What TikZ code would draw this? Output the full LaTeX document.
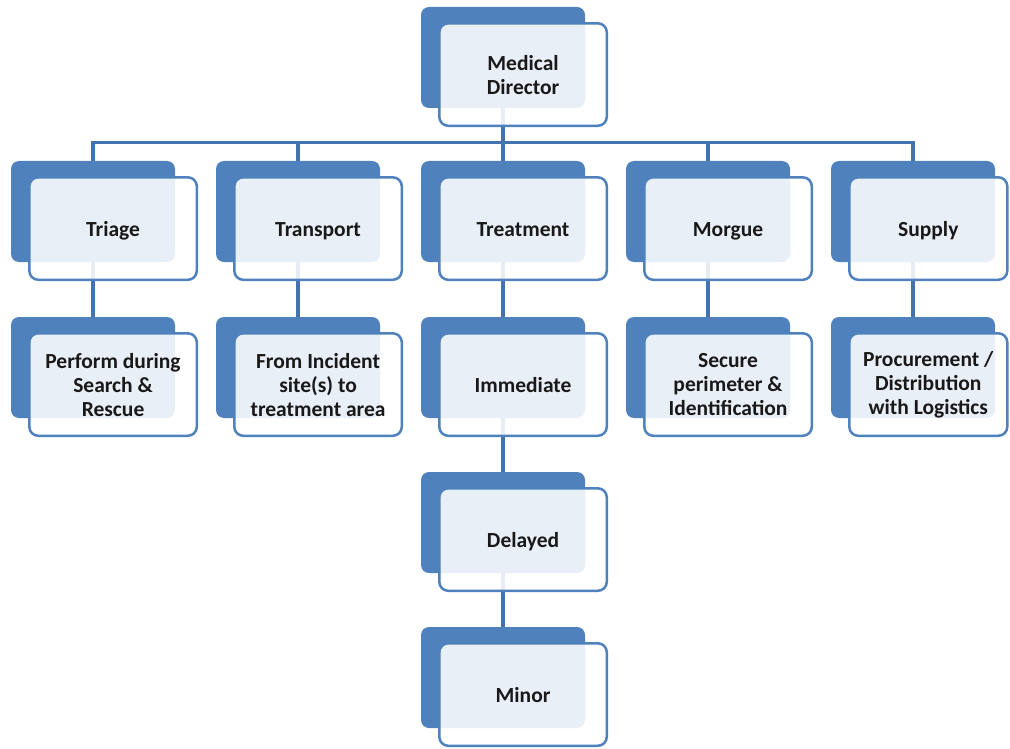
\documentclass[tikz,border=0pt]{standalone}
\usepackage{fontspec}
\setmainfont{Carlito}
\usetikzlibrary{backgrounds}
\definecolor{unitblue}{HTML}{4F81BD}
\definecolor{linkblue}{HTML}{4372B0}
\tikzset{
	backbox/.style={rectangle, rounded corners=8pt, fill=unitblue, minimum width=164pt, minimum height=101pt, inner sep=0pt},
	frontbox/.style={rectangle, rounded corners=9pt, draw=unitblue, line width=2.5pt, fill=white, fill opacity=0.88, text opacity=1, minimum width=167.5pt, minimum height=102.5pt, align=center, inner sep=0pt, font=\fontsize{21.5}{24}\selectfont\bfseries, text=black!90, anchor=north west},
	oneline/.style={text height=21pt, text depth=5pt},
	narrow/.style={minimum width=158pt},
	link/.style={draw=linkblue, line width=3.2pt, line cap=rect}
}
% back plate and front card of one unit
\newcommand{\unitcard}[4][]{%
	\node[backbox] (#2-b) at (#3) {};
	\node[frontbox, #1] (#2) at ([xshift=17.25pt,yshift=-15.25pt]#2-b.north west) {#4};
}
\begin{document}
\begin{tikzpicture}[x=1pt, y=-1pt]
		\useasboundingbox (0,0) rectangle (1010,749);
		
		\unitcard{md}{503,57.5}{Medical\\Director}
		
		\unitcard[oneline]{triage}{93,211.5}{Triage}
		\unitcard[oneline]{transport}{298,211.5}{Transport}
		\unitcard[oneline]{treatment}{503,211.5}{Treatment}
		\unitcard[oneline]{morgue}{708,211.5}{Morgue}
		\unitcard[oneline, narrow]{supply}{913,211.5}{Supply}
		
		\unitcard{perform}{93,367.5}{Perform during\\Search \&\\Rescue}
		\unitcard{fromsite}{298,367.5}{From Incident\\site(s) to\\treatment area}
		\unitcard[oneline]{immediate}{503,367.5}{Immediate}
		\unitcard{secure}{708,367.5}{Secure\\perimeter \&\\Identification}
		\unitcard[narrow]{procure}{913,367.5}{Procurement /\\Distribution\\with Logistics}
		
		\unitcard[oneline]{delayed}{503,522.5}{Delayed}
		\unitcard[oneline]{minor}{503,677.5}{Minor}
		
		\begin{scope}[on background layer]
			\coordinate (bus) at (0,142.5);
			\draw[link] (md-b.center) -- (md-b.center |- bus);
			\draw[link] (triage-b.center |- bus) -- (supply-b.center |- bus);
			\foreach \uname/\lname in {triage/perform, transport/fromsite, treatment/immediate, morgue/secure, supply/procure}
				\draw[link] (\uname-b.center |- bus) -- (\lname-b.center);
			\draw[link] (immediate-b.center) -- (delayed-b.center);
			\draw[link] (delayed-b.center) -- (minor-b.center);
		\end{scope}
	\end{tikzpicture}
\end{document}
